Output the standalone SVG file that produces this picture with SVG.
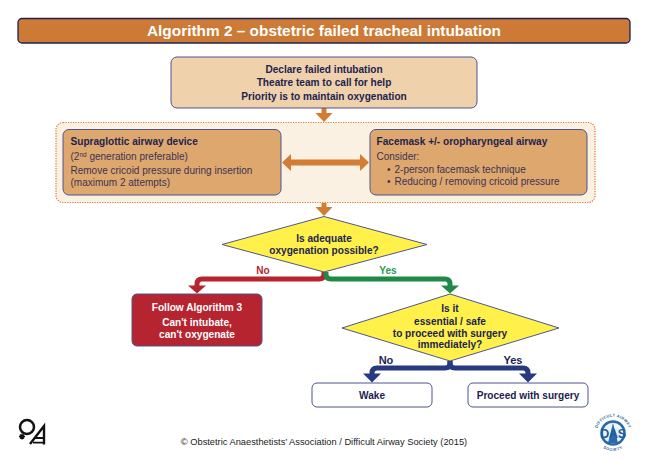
<svg xmlns="http://www.w3.org/2000/svg" width="648" height="458" viewBox="0 0 648 458">
<style>
text{font-family:"Liberation Sans",Arial,sans-serif;font-size:10.100px;fill:#1d2350;text-anchor:middle}
.b{font-weight:700}
.l{text-anchor:start}
.g{fill:#3b3355;font-size:10px}
.w{fill:#fff}
.box{stroke:#4d5590;stroke-width:1}
.c{fill:none;stroke-width:5}
</style>
<rect width="648" height="458" fill="#fff"/>
<g id="title"><rect x="18" y="18.500" width="612" height="24.500" rx="4" fill="#cc7a35" stroke="#1c2350" stroke-width="1.300"/><text class="b w" x="324" y="36" style="font-size:15.400px">Algorithm 2 – obstetric failed tracheal intubation</text></g>
<g id="group-bg"><rect x="56" y="122.500" width="539" height="80" rx="7" fill="#fbf1e2" stroke="#e2762a" stroke-width="1.200" stroke-dasharray="1.200 1.300"/></g>
<g id="connectors">
<path d="M324 108V114" stroke="#d27d33" stroke-width="5" fill="none"/><path d="M315.500 113H332.500L324 122Z" fill="#d27d33"/>
<path d="M324 203V208" stroke="#d27d33" stroke-width="5" fill="none"/><path d="M315.500 207H332.500L324 216Z" fill="#d27d33"/>
<path d="M290 162.500H361" stroke="#d27d33" stroke-width="6" fill="none"/><path d="M291 154V171L282 162.500Z M360 154V171L369 162.500Z" fill="#d27d33"/>
<path class="c" stroke="#b5242f" d="M324 272V274Q324 279 319 279H202Q197 279 197 284V287"/><path d="M188 285.500H206L197 293.500Z" fill="#b5242f"/>
<path class="c" stroke="#1f8a45" d="M326 272V274Q326 279 331 279H445Q450 279 450 284V287"/><path d="M441 285.500H459L450 293.500Z" fill="#1f8a45"/>
<path class="c" stroke="#27397f" d="M450 361V363Q450 368 445 368H377Q372 368 372 373V375"/><path d="M363 373.500H381L372 382.500Z" fill="#27397f"/>
<path class="c" stroke="#27397f" d="M450 361V363Q450 368 455 368H523Q528 368 528 373V375"/><path d="M519 373.500H537L528 382.500Z" fill="#27397f"/>
<text class="b" x="263" y="274" style="fill:#b5242f">No</text>
<text class="b" x="388" y="274" style="fill:#2b9a52">Yes</text>
<text class="b" x="386" y="364" style="font-size:11px">No</text>
<text class="b" x="513" y="364" style="font-size:11px">Yes</text>
</g>
<g id="declare"><rect class="box" x="171" y="57" width="306" height="51" rx="6" fill="#efd2ac"/>
<text class="b" x="324" y="72.500">Declare failed intubation</text><text class="b" x="324" y="86">Theatre team to call for help</text><text class="b" x="324" y="99.500">Priority is to maintain oxygenation</text></g>
<g id="sad"><rect class="box" x="63" y="129.500" width="218" height="65.500" rx="6" fill="#dea76d"/>
<text class="b l" x="70.500" y="144.500">Supraglottic airway device</text>
<text class="l g" x="70.500" y="160">(2<tspan dy="-3" style="font-size:6.500px">nd</tspan><tspan dy="3"> generation preferable)</tspan></text>
<text class="l g" x="70.500" y="174">Remove cricoid pressure during insertion</text>
<text class="l g" x="70.500" y="185.700">(maximum 2 attempts)</text></g>
<g id="facemask"><rect class="box" x="370" y="129.500" width="217" height="65.500" rx="6" fill="#dea76d"/>
<text class="b l" x="376.500" y="144.500">Facemask +/- oropharyngeal airway</text>
<text class="l g" x="376.500" y="160">Consider:</text>
<text class="l g" x="387" y="173">•</text><text class="l g" x="394.500" y="173">2-person facemask technique</text>
<text class="l g" x="387" y="185">•</text><text class="l g" x="394.500" y="185">Reducing / removing cricoid pressure</text></g>
<g id="q1"><path d="M222 244.500L324 216.500L427 244.500L324 272Z" fill="#fff14a" stroke="#4d5590"/>
<text class="b" x="324" y="242">Is adequate</text><text class="b" x="324" y="254">oxygenation possible?</text></g>
<g id="alg3"><rect class="box" x="132" y="294" width="130" height="52" rx="5" fill="#b5242f"/>
<text class="b w" x="197" y="311">Follow Algorithm 3</text><text class="b w" x="197" y="326">Can't intubate,</text><text class="b w" x="197" y="338">can't oxygenate</text></g>
<g id="q2"><path d="M342 328L450 294L559 328L450 361Z" fill="#fff14a" stroke="#4d5590"/>
<text class="b" x="450" y="312">Is it</text><text class="b" x="450" y="324.500">essential / safe</text><text class="b" x="450" y="336.500">to proceed with surgery</text><text class="b" x="450" y="348">immediately?</text></g>
<g id="wake"><rect class="box" x="312" y="383" width="120" height="24" rx="5" fill="#fff"/><text class="b" x="372" y="399">Wake</text></g>
<g id="proceed"><rect class="box" x="468" y="383" width="120" height="24" rx="5" fill="#fff"/><text class="b" x="528" y="399">Proceed with surgery</text></g>
<g id="footer"><text x="324" y="445" style="font-size:9.300px;fill:#222">© Obstetric Anaesthetists’ Association / Difficult Airway Society (2015)</text></g>
<g id="oaa-logo" fill="none" stroke="#111"><circle cx="27" cy="427" r="7" stroke-width="2.500"/><path d="M30 444L44 426V444.500" stroke-width="2.400"/><path d="M35 438H45M33 442.700H45" stroke-width="1.800"/><path d="M19 436.500h6M22 433.500v6M20 434.500l4 4M24 434.500l-4 4" stroke-width="1.300"/></g>
<g id="das-logo"><defs><path id="das-arc" d="M598.500 441A16.500 16.500 0 1 1 627.500 441"/><path id="das-arc2" d="M595.500 433.500A17.500 17.500 0 0 0 630.500 433.500"/></defs>
<circle cx="613" cy="433" r="11.500" fill="#eef3f8" stroke="#2a6aac" stroke-width="2.500"/>
<path d="M613 423L618 443H608Z" fill="#2a6aac"/>
<text class="b" style="font-size:3.900px;fill:#1f5e9e;letter-spacing:.35px"><textPath href="#das-arc" startOffset="50%">DIFFICULT AIRWAY</textPath></text>
<text class="b" style="font-size:3.900px;fill:#1f5e9e;letter-spacing:.6px"><textPath href="#das-arc2" startOffset="50%">SOCIETY</textPath></text>
<text class="b" x="613" y="437.500" style="font-size:12.500px;fill:#1f5e9e;letter-spacing:-.3px">DAS</text></g>
</svg>
